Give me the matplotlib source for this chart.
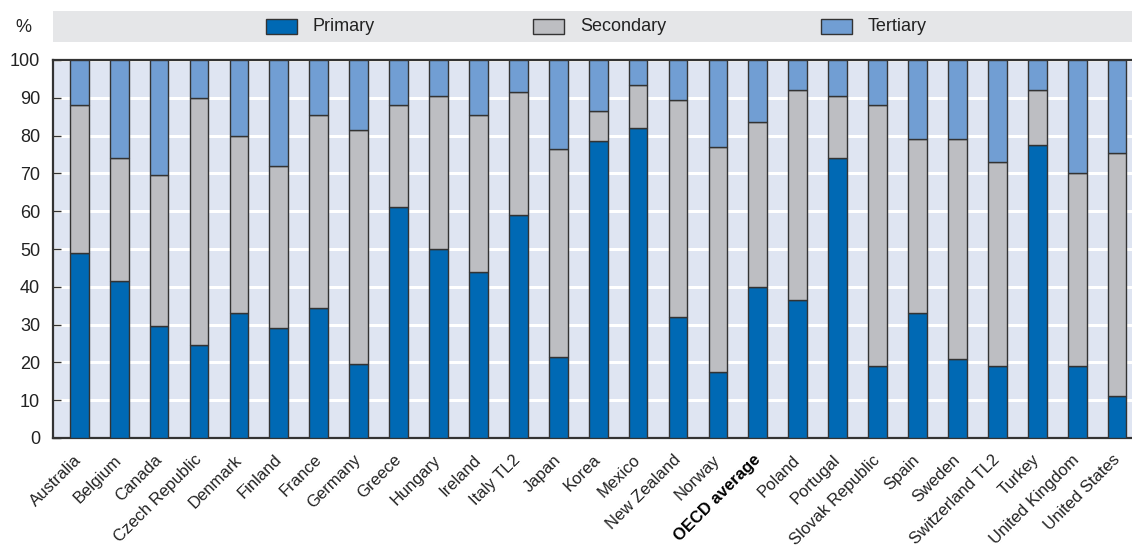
import matplotlib
matplotlib.use("Agg")
import matplotlib.pyplot as plt
from matplotlib.patches import Rectangle
import numpy as np

countries = ["Australia", "Belgium", "Canada", "Czech Republic", "Denmark", "Finland",
             "France", "Germany", "Greece", "Hungary", "Ireland", "Italy TL2", "Japan",
             "Korea", "Mexico", "New Zealand", "Norway", "OECD average", "Poland",
             "Portugal", "Slovak Republic", "Spain", "Sweden", "Switzerland TL2",
             "Turkey", "United Kingdom", "United States"]
primary = [49, 41.5, 29.5, 24.5, 33, 29, 34.5, 19.5, 61, 50, 44, 59, 21.5, 78.5, 82,
           32, 17.5, 40, 36.5, 74, 19, 33, 21, 19, 77.5, 19, 11]
prim_plus_sec = [88, 74, 69.5, 90, 80, 72, 85.5, 81.5, 88, 90.5, 85.5, 91.5, 76.5, 86.5,
                 93.5, 89.5, 77, 83.5, 92, 90.5, 88, 79, 79, 73, 92, 70, 75.5]
secondary = [c - p for c, p in zip(prim_plus_sec, primary)]
tertiary = [100 - c for c in prim_plus_sec]
series_names = ["Primary", "Secondary", "Tertiary"]
yticks = list(range(0, 101, 10))

C_PRI = "#0069B4"
C_SEC = "#BDBEC2"
C_TER = "#719ED3"
BG = "#DFE5F2"
BAND = "#E5E6E8"
EDGE = "#333333"
TXT = "#222222"

plt.rcParams['font.family'] = ['Liberation Sans', 'DejaVu Sans']

W, H = 1132, 548
fig = plt.figure(figsize=(W / 100, H / 100), dpi=100)

left_px, right_px, top_px, bot_px = 52.7, 1143.6, 60, 438
ax = fig.add_axes([left_px / W, 1 - bot_px / H, (right_px - left_px) / W, (bot_px - top_px) / H])
ax.set_facecolor(BG)

x = np.arange(len(countries))
bw = 0.47
ax.bar(x, primary, bw, color=C_PRI, edgecolor=EDGE, linewidth=1.0, zorder=3)
ax.bar(x, secondary, bw, bottom=primary, color=C_SEC, edgecolor=EDGE, linewidth=1.0, zorder=3)
ax.bar(x, tertiary, bw, bottom=prim_plus_sec, color=C_TER, edgecolor=EDGE, linewidth=1.0, zorder=3)

ax.set_xlim(-0.665, len(countries) - 1 + 0.665)
ax.set_ylim(0, 100)
ax.set_yticks(yticks)
ax.yaxis.grid(True, color="white", linewidth=2.2, zorder=1)
ax.set_axisbelow(True)
ax.tick_params(axis='y', direction='in', length=6, width=1, color=EDGE, labelsize=13,
               pad=9, labelcolor=TXT)
ax.tick_params(axis='x', length=0, pad=14)
for s in ["left", "bottom", "top"]:
    ax.spines[s].set_color(EDGE)
    ax.spines[s].set_linewidth(1.6)
ax.spines["right"].set_visible(False)

ax.set_xticks(x)
ax.set_xticklabels(countries, rotation=45, ha="right", va="center", rotation_mode="anchor",
                   fontsize=12, color=TXT)
for lab in ax.get_xticklabels():
    if lab.get_text() == "OECD average":
        lab.set_fontweight("bold")
        lab.set_color("black")

# legend band
fig.patches.append(Rectangle((left_px / W, 1 - 41.5 / H), 1.0, 30.5 / H,
                             transform=fig.transFigure, facecolor=BAND, edgecolor="none",
                             zorder=0))
patch_x = [266, 533, 821]
for px, name, col in zip(patch_x, series_names, [C_PRI, C_SEC, C_TER]):
    fig.patches.append(Rectangle((px / W, 1 - 34 / H), 31 / W, 15 / H,
                                 transform=fig.transFigure, facecolor=col,
                                 edgecolor=EDGE, linewidth=1.0, zorder=2))
    fig.text((px + 47) / W, 1 - 26.5 / H, name, fontsize=13, va="center", ha="left",
             color=TXT)

fig.text(23 / W, 1 - 28 / H, "%", fontsize=13, va="center", ha="center", color=TXT)

fig.savefig("out.png", dpi=100)
